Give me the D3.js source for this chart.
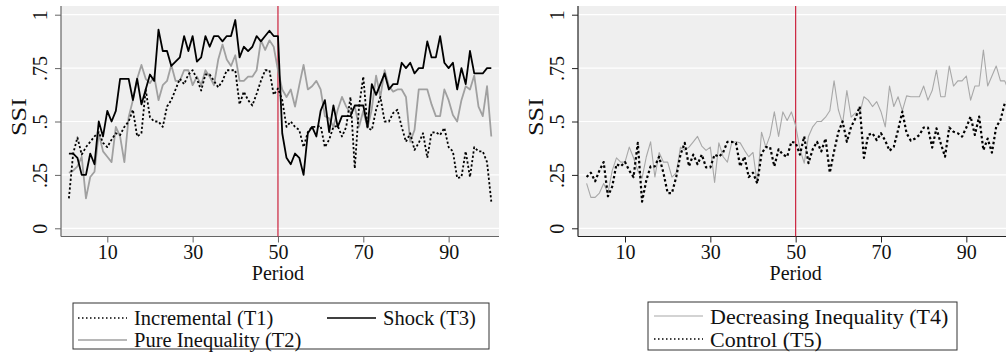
<!DOCTYPE html>
<html>
<head>
<meta charset="utf-8">
<script src="https://cdn.jsdelivr.net/npm/d3@7"></script>
<style>
  body { margin: 0; background: #fff; }
  svg text { font-family: "Liberation Serif", "Times New Roman", serif; fill: #111; }
</style>
</head>
<body>
<svg id="chart" width="1006" height="352"></svg>
<script>
// periods 1..100
var periods = d3.range(1, 101);

var xTicks = [10, 30, 50, 70, 90];
var yTicks = [0, 0.25, 0.5, 0.75, 1];
var yTickLabels = ["0", ".25", ".5", ".75", "1"];
var shockPeriod = 50;

// left panel
var incremental = [
  0.14, 0.35, 0.425, 0.345, 0.38, 0.405, 0.43, 0.45, 0.40, 0.38,
  0.415, 0.445, 0.437, 0.475, 0.50, 0.555, 0.43, 0.445, 0.65, 0.52,
  0.50, 0.50, 0.475, 0.57, 0.60, 0.65, 0.70, 0.675, 0.72, 0.74,
  0.70, 0.645, 0.72, 0.72, 0.69, 0.66, 0.69, 0.74, 0.74, 0.74,
  0.58, 0.64, 0.60, 0.575, 0.63, 0.69, 0.74, 0.74, 0.625, 0.655,
  0.60, 0.475, 0.50, 0.475, 0.46, 0.38, 0.45, 0.475, 0.475, 0.48,
  0.38, 0.415, 0.475, 0.48, 0.43, 0.475, 0.615, 0.28, 0.57, 0.71,
  0.47, 0.46, 0.555, 0.615, 0.50, 0.50, 0.54, 0.555, 0.475, 0.405,
  0.445, 0.367, 0.40, 0.445, 0.33, 0.448, 0.45, 0.437, 0.47, 0.38,
  0.36, 0.235, 0.24, 0.36, 0.24, 0.38, 0.36, 0.36, 0.31, 0.125
];
var pureInequality = [
  0.26, 0.27, 0.29, 0.335, 0.14, 0.24, 0.265, 0.445, 0.36, 0.335,
  0.31, 0.475, 0.43, 0.31, 0.52, 0.60, 0.70, 0.765, 0.70, 0.68,
  0.71, 0.60, 0.67, 0.69, 0.765, 0.69, 0.69, 0.74, 0.74, 0.67,
  0.71, 0.67, 0.74, 0.71, 0.67, 0.79, 0.86, 0.79, 0.76, 0.81,
  0.69, 0.69, 0.71, 0.71, 0.74, 0.88, 0.835, 0.88, 0.85, 0.74,
  0.65, 0.615, 0.65, 0.57, 0.67, 0.765, 0.65, 0.665, 0.69, 0.65,
  0.525, 0.515, 0.475, 0.555, 0.615, 0.57, 0.54, 0.57, 0.475, 0.55,
  0.47, 0.56, 0.715, 0.615, 0.74, 0.665, 0.64, 0.65, 0.65, 0.615,
  0.405, 0.46, 0.65, 0.65, 0.65, 0.58, 0.525, 0.525, 0.65, 0.60,
  0.53, 0.50, 0.60, 0.665, 0.65, 0.715, 0.57, 0.525, 0.665, 0.43
];
var shock = [
  0.35, 0.35, 0.33, 0.25, 0.25, 0.35, 0.30, 0.50, 0.43, 0.55,
  0.50, 0.55, 0.70, 0.70, 0.70, 0.60, 0.70, 0.58, 0.65, 0.72,
  0.69, 0.93, 0.83, 0.83, 0.76, 0.78, 0.80, 0.90, 0.83, 0.90,
  0.78, 0.80, 0.90, 0.85, 0.90, 0.90, 0.875, 0.90, 0.90, 0.975,
  0.80, 0.85, 0.83, 0.85, 0.90, 0.875, 0.90, 0.925, 0.90, 0.90,
  0.445, 0.33, 0.30, 0.35, 0.33, 0.25, 0.445, 0.475, 0.43, 0.55,
  0.60, 0.45, 0.575, 0.475, 0.525, 0.525, 0.525, 0.575, 0.575, 0.575,
  0.475, 0.675, 0.625, 0.675, 0.725, 0.65, 0.675, 0.675, 0.775, 0.75,
  0.775, 0.725, 0.75, 0.75, 0.875, 0.80, 0.80, 0.90, 0.775, 0.75,
  0.775, 0.65, 0.75, 0.675, 0.83, 0.725, 0.725, 0.725, 0.75, 0.75
];

// right panel
var decreasing = [
  0.21, 0.145, 0.145, 0.165, 0.21, 0.165, 0.27, 0.33, 0.31, 0.31,
  0.38, 0.33, 0.27, 0.235, 0.335, 0.405, 0.24, 0.355, 0.31, 0.31,
  0.24, 0.26, 0.38, 0.365, 0.38, 0.405, 0.43, 0.385, 0.365, 0.38,
  0.215, 0.40, 0.335, 0.31, 0.40, 0.405, 0.40, 0.365, 0.335, 0.355,
  0.21, 0.45, 0.38, 0.435, 0.545, 0.43, 0.545, 0.505, 0.545, 0.48,
  0.37, 0.305, 0.43, 0.475, 0.50, 0.50, 0.52, 0.55, 0.69, 0.555,
  0.49, 0.645, 0.52, 0.54, 0.535, 0.616, 0.60, 0.57, 0.593, 0.546,
  0.475, 0.666, 0.57, 0.616, 0.55, 0.62, 0.616, 0.616, 0.616, 0.666,
  0.60, 0.645, 0.74, 0.616, 0.616, 0.76, 0.666, 0.69, 0.69, 0.713,
  0.60, 0.666, 0.666, 0.835, 0.666, 0.713, 0.76, 0.69, 0.69, 0.64
];
var control = [
  0.24, 0.26, 0.22, 0.27, 0.31, 0.15, 0.195, 0.30, 0.29, 0.31,
  0.27, 0.24, 0.40, 0.125, 0.225, 0.29, 0.29, 0.335, 0.26, 0.165,
  0.165, 0.24, 0.345, 0.40, 0.29, 0.345, 0.30, 0.345, 0.285, 0.285,
  0.345, 0.335, 0.355, 0.405, 0.405, 0.40, 0.29, 0.335, 0.24, 0.26,
  0.21, 0.35, 0.38, 0.38, 0.29, 0.37, 0.345, 0.335, 0.405, 0.40,
  0.345, 0.43, 0.305, 0.37, 0.405, 0.36, 0.42, 0.26, 0.36, 0.45,
  0.50, 0.405, 0.475, 0.515, 0.57, 0.33, 0.437, 0.445, 0.413, 0.445,
  0.41, 0.363, 0.382, 0.46, 0.546, 0.445, 0.41, 0.42, 0.437, 0.472,
  0.472, 0.378, 0.468, 0.398, 0.335, 0.472, 0.452, 0.445, 0.429, 0.472,
  0.523, 0.437, 0.523, 0.366, 0.42, 0.354, 0.475, 0.507, 0.585, 0.60
];

var svg = d3.select("#chart");
var fontSize = 20;

var plotTop = 6, plotBottom = 236.5;
var y = d3.scaleLinear().domain([0, 1]).range([228.3, 14.7]);

var styles = {
  incremental: { color: "#000", width: 1.8, dash: "2.2,2.2" },
  pure: { color: "#a0a0a0", width: 1.8, dash: null },
  shock: { color: "#000", width: 1.8, dash: null },
  decreasing: { color: "#a8a8a8", width: 1.1, dash: null },
  control: { color: "#000", width: 2.2, dash: "2.5,2.5" }
};

var panels = [
  {
    left: 61, right: 499, xRange: [68.9, 491.3], axisColor: "#666",
    series: [
      { values: pureInequality, style: styles.pure },
      { values: incremental, style: styles.incremental },
      { values: shock, style: styles.shock }
    ]
  },
  {
    left: 578, right: 1016, xRange: [586.6, 1009], axisColor: "#222",
    series: [
      { values: decreasing, style: styles.decreasing },
      { values: control, style: styles.control }
    ]
  }
];

panels.forEach(function (p, i) {
  var x = d3.scaleLinear().domain([1, 100]).range(p.xRange);
  var g = svg.append("g");

  // plot region background
  g.append("rect")
    .attr("x", p.left).attr("y", plotTop)
    .attr("width", p.right - p.left).attr("height", plotBottom - plotTop)
    .attr("fill", "#efefef");

  // horizontal grid
  g.selectAll(".grid").data(yTicks).enter().append("line")
    .attr("x1", p.left).attr("x2", p.right)
    .attr("y1", function (d) { return y(d); })
    .attr("y2", function (d) { return y(d); })
    .attr("stroke", "#fff").attr("stroke-width", 1.2);

  // y axis
  var yAxis = d3.axisLeft(y).tickValues(yTicks)
    .tickFormat(function (d, k) { return yTickLabels[k]; })
    .tickSize(6).tickSizeOuter(0);
  var ya = g.append("g").attr("transform", "translate(" + p.left + ",0)").call(yAxis);
  ya.select(".domain").remove();
  ya.append("line").attr("x1", 0).attr("x2", 0)
    .attr("y1", plotTop).attr("y2", plotBottom)
    .attr("stroke", p.axisColor).attr("stroke-width", 1.2);
  ya.selectAll(".tick line").attr("stroke", p.axisColor);
  ya.selectAll(".tick text")
    .attr("font-size", fontSize).attr("fill", "#111")
    .attr("text-anchor", "middle")
    .attr("x", null).attr("dy", null)
    .attr("transform", "translate(-14,0) rotate(-90)")
    .attr("y", 0);

  // x axis
  var xAxis = d3.axisBottom(x).tickValues(xTicks).tickSize(6).tickSizeOuter(0);
  var xa = g.append("g").attr("transform", "translate(0," + plotBottom + ")").call(xAxis);
  xa.select(".domain").remove();
  xa.append("line").attr("x1", p.left).attr("x2", p.right)
    .attr("y1", 0).attr("y2", 0)
    .attr("stroke", p.axisColor).attr("stroke-width", 1.2);
  xa.selectAll(".tick line").attr("stroke", p.axisColor);
  xa.selectAll(".tick text")
    .attr("font-size", fontSize).attr("fill", "#111")
    .attr("y", 8).attr("dy", "0.71em");

  // axis titles (SSI is drawn stretched along its length, as in the original)
  g.append("text")
    .attr("transform", "translate(" + (p.left - 35) + ",117) rotate(-90)")
    .attr("text-anchor", "middle").attr("font-size", 21)
    .attr("textLength", 38).attr("lengthAdjust", "spacingAndGlyphs")
    .text("SSI");
  g.append("text")
    .attr("x", x(50)).attr("y", 280)
    .attr("text-anchor", "middle").attr("font-size", fontSize)
    .text("Period");

  // shock period marker
  g.append("line")
    .attr("x1", x(shockPeriod)).attr("x2", x(shockPeriod))
    .attr("y1", plotTop).attr("y2", plotBottom)
    .attr("stroke", "#c8102e").attr("stroke-width", 1.1);

  // series
  var line = d3.line()
    .x(function (d, k) { return x(periods[k]); })
    .y(function (d) { return y(d); });
  p.series.forEach(function (s) {
    g.append("path")
      .datum(s.values)
      .attr("d", line)
      .attr("fill", "none")
      .attr("stroke", s.style.color)
      .attr("stroke-width", s.style.width)
      .attr("stroke-dasharray", s.style.dash)
      .attr("stroke-linejoin", "round");
  });
});

// legends
var legends = [
  {
    box: [73, 303, 416, 46], fontSize: 20.5,
    items: [
      { label: "Incremental (T1)", style: styles.incremental, x: 78, y: 318 },
      { label: "Shock (T3)", style: styles.shock, x: 327, y: 318 },
      { label: "Pure Inequality (T2)", style: styles.pure, x: 78, y: 340 }
    ]
  },
  {
    box: [648, 302, 309, 48], fontSize: 22,
    items: [
      { label: "Decreasing Inequality (T4)", style: styles.decreasing, x: 654, y: 316 },
      { label: "Control (T5)", style: styles.control, x: 654, y: 339 }
    ]
  }
];

legends.forEach(function (lg) {
  var g = svg.append("g");
  g.append("rect")
    .attr("x", lg.box[0]).attr("y", lg.box[1])
    .attr("width", lg.box[2]).attr("height", lg.box[3])
    .attr("fill", "#fff").attr("stroke", "#333").attr("stroke-width", 1);
  lg.items.forEach(function (it) {
    g.append("line")
      .attr("x1", it.x).attr("x2", it.x + 49)
      .attr("y1", it.y).attr("y2", it.y)
      .attr("stroke", it.style.color)
      .attr("stroke-width", Math.min(it.style.width, 1.4))
      .attr("stroke-dasharray", it.style.dash ? "1.5,2.5" : null);
    g.append("text")
      .attr("x", it.x + 56).attr("y", it.y)
      .attr("dy", "0.35em").attr("font-size", lg.fontSize)
      .text(it.label);
  });
});
</script>
</body>
</html>
